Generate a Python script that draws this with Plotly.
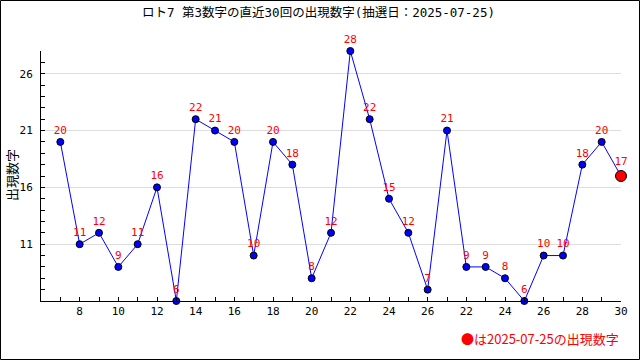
import plotly.graph_objects as go

draw_index = list(range(1, 31))
values = [20, 11, 12, 9, 11, 16, 6, 22, 21, 20, 10, 20, 18, 8, 12,
          28, 22, 15, 12, 7, 21, 9, 9, 8, 6, 10, 10, 18, 20, 17]
x_tick_positions = list(range(2, 31, 2))
x_tick_labels = ["8", "10", "12", "14", "16", "18", "20", "22", "24", "26",
                 "22", "24", "26", "28", "30"]
y_tick_values = [11, 16, 21, 26]
title_text = "ロト7 第3数字の直近30回の出現数字(抽選日：2025-07-25)"
y_title_text = "出現数字"
note_text = "●は2025-07-25の出現数字"

FONT = "DejaVu Sans Mono, Noto Sans CJK JP"
CJK = "Noto Sans CJK JP"

fig = go.Figure()
fig.add_trace(go.Scatter(
    x=draw_index,
    y=values,
    mode="lines+markers+text",
    line=dict(color="#0000ff", width=1),
    marker=dict(color=["#0000ff"] * (len(values) - 1) + ["#ff0000"],
                size=[7] * (len(values) - 1) + [11],
                opacity=1,
                line=dict(color="black", width=1)),
    text=[str(v) for v in values],
    textposition="top center",
    textfont=dict(color="#ff0000", size=11, family=FONT),
    cliponaxis=False,
    hoverinfo="skip",
))

L, R, T, B = 41, 19, 51, 59
W, H = 640, 360
pw, ph = W - L - R, H - T - B

fig.update_layout(
    width=W, height=H,
    margin=dict(l=L, r=R, t=T, b=B),
    paper_bgcolor="white", plot_bgcolor="white",
    showlegend=False,
    font=dict(family=FONT, size=11, color="black"),
    xaxis=dict(range=[0, 30], tickvals=x_tick_positions, ticktext=x_tick_labels,
               ticks="inside", ticklen=4, tickcolor="black",
               minor=dict(dtick=1, tick0=0, ticks="inside", ticklen=4, tickcolor="black"),
               showline=True, linecolor="black", linewidth=1,
               showgrid=False, zeroline=False, automargin=False,
               tickfont=dict(size=11, color="black", family=FONT)),
    yaxis=dict(range=[6, 28], tickvals=y_tick_values,
               ticks="inside", ticklen=4, tickcolor="black",
               minor=dict(dtick=1, tick0=0, ticks="inside", ticklen=4, tickcolor="black", showgrid=False),
               showline=True, linecolor="black", linewidth=1,
               showgrid=True, gridcolor="#dddddd", gridwidth=1, zeroline=False,
               automargin=False, ticklabelstandoff=5,
               tickfont=dict(size=11, color="black", family=FONT)),
    annotations=[
        dict(text=title_text, xref="paper", yref="paper", x=(318 - L) / pw, y=1 + (T - 12) / ph,
             xanchor="center", yanchor="middle", showarrow=False,
             font=dict(family=FONT, size=12.5, color="black")),
        dict(text=y_title_text, xref="paper", yref="paper", x=-(L - 12) / pw, y=1 - (175 - T) / ph,
             xanchor="center", yanchor="middle", showarrow=False, textangle=-90,
             font=dict(family=FONT, size=13, color="black")),
        dict(text=note_text, xref="paper", yref="paper", x=1, y=-(338 - (H - B)) / ph,
             xanchor="right", yanchor="middle", showarrow=False,
             font=dict(color="#ff0000", size=13, family=CJK)),
    ],
    shapes=[dict(type="rect", xref="paper", yref="paper",
                 x0=-(L - 0.5) / pw, x1=1 + (R - 0.5) / pw,
                 y0=-(B - 0.5) / ph, y1=1 + (T - 0.5) / ph,
                 line=dict(color="black", width=1), layer="below")],
)

fig.write_html("out.html", config={"displayModeBar": False},
               post_script="document.body.style.margin='0';document.body.style.padding='0';")
